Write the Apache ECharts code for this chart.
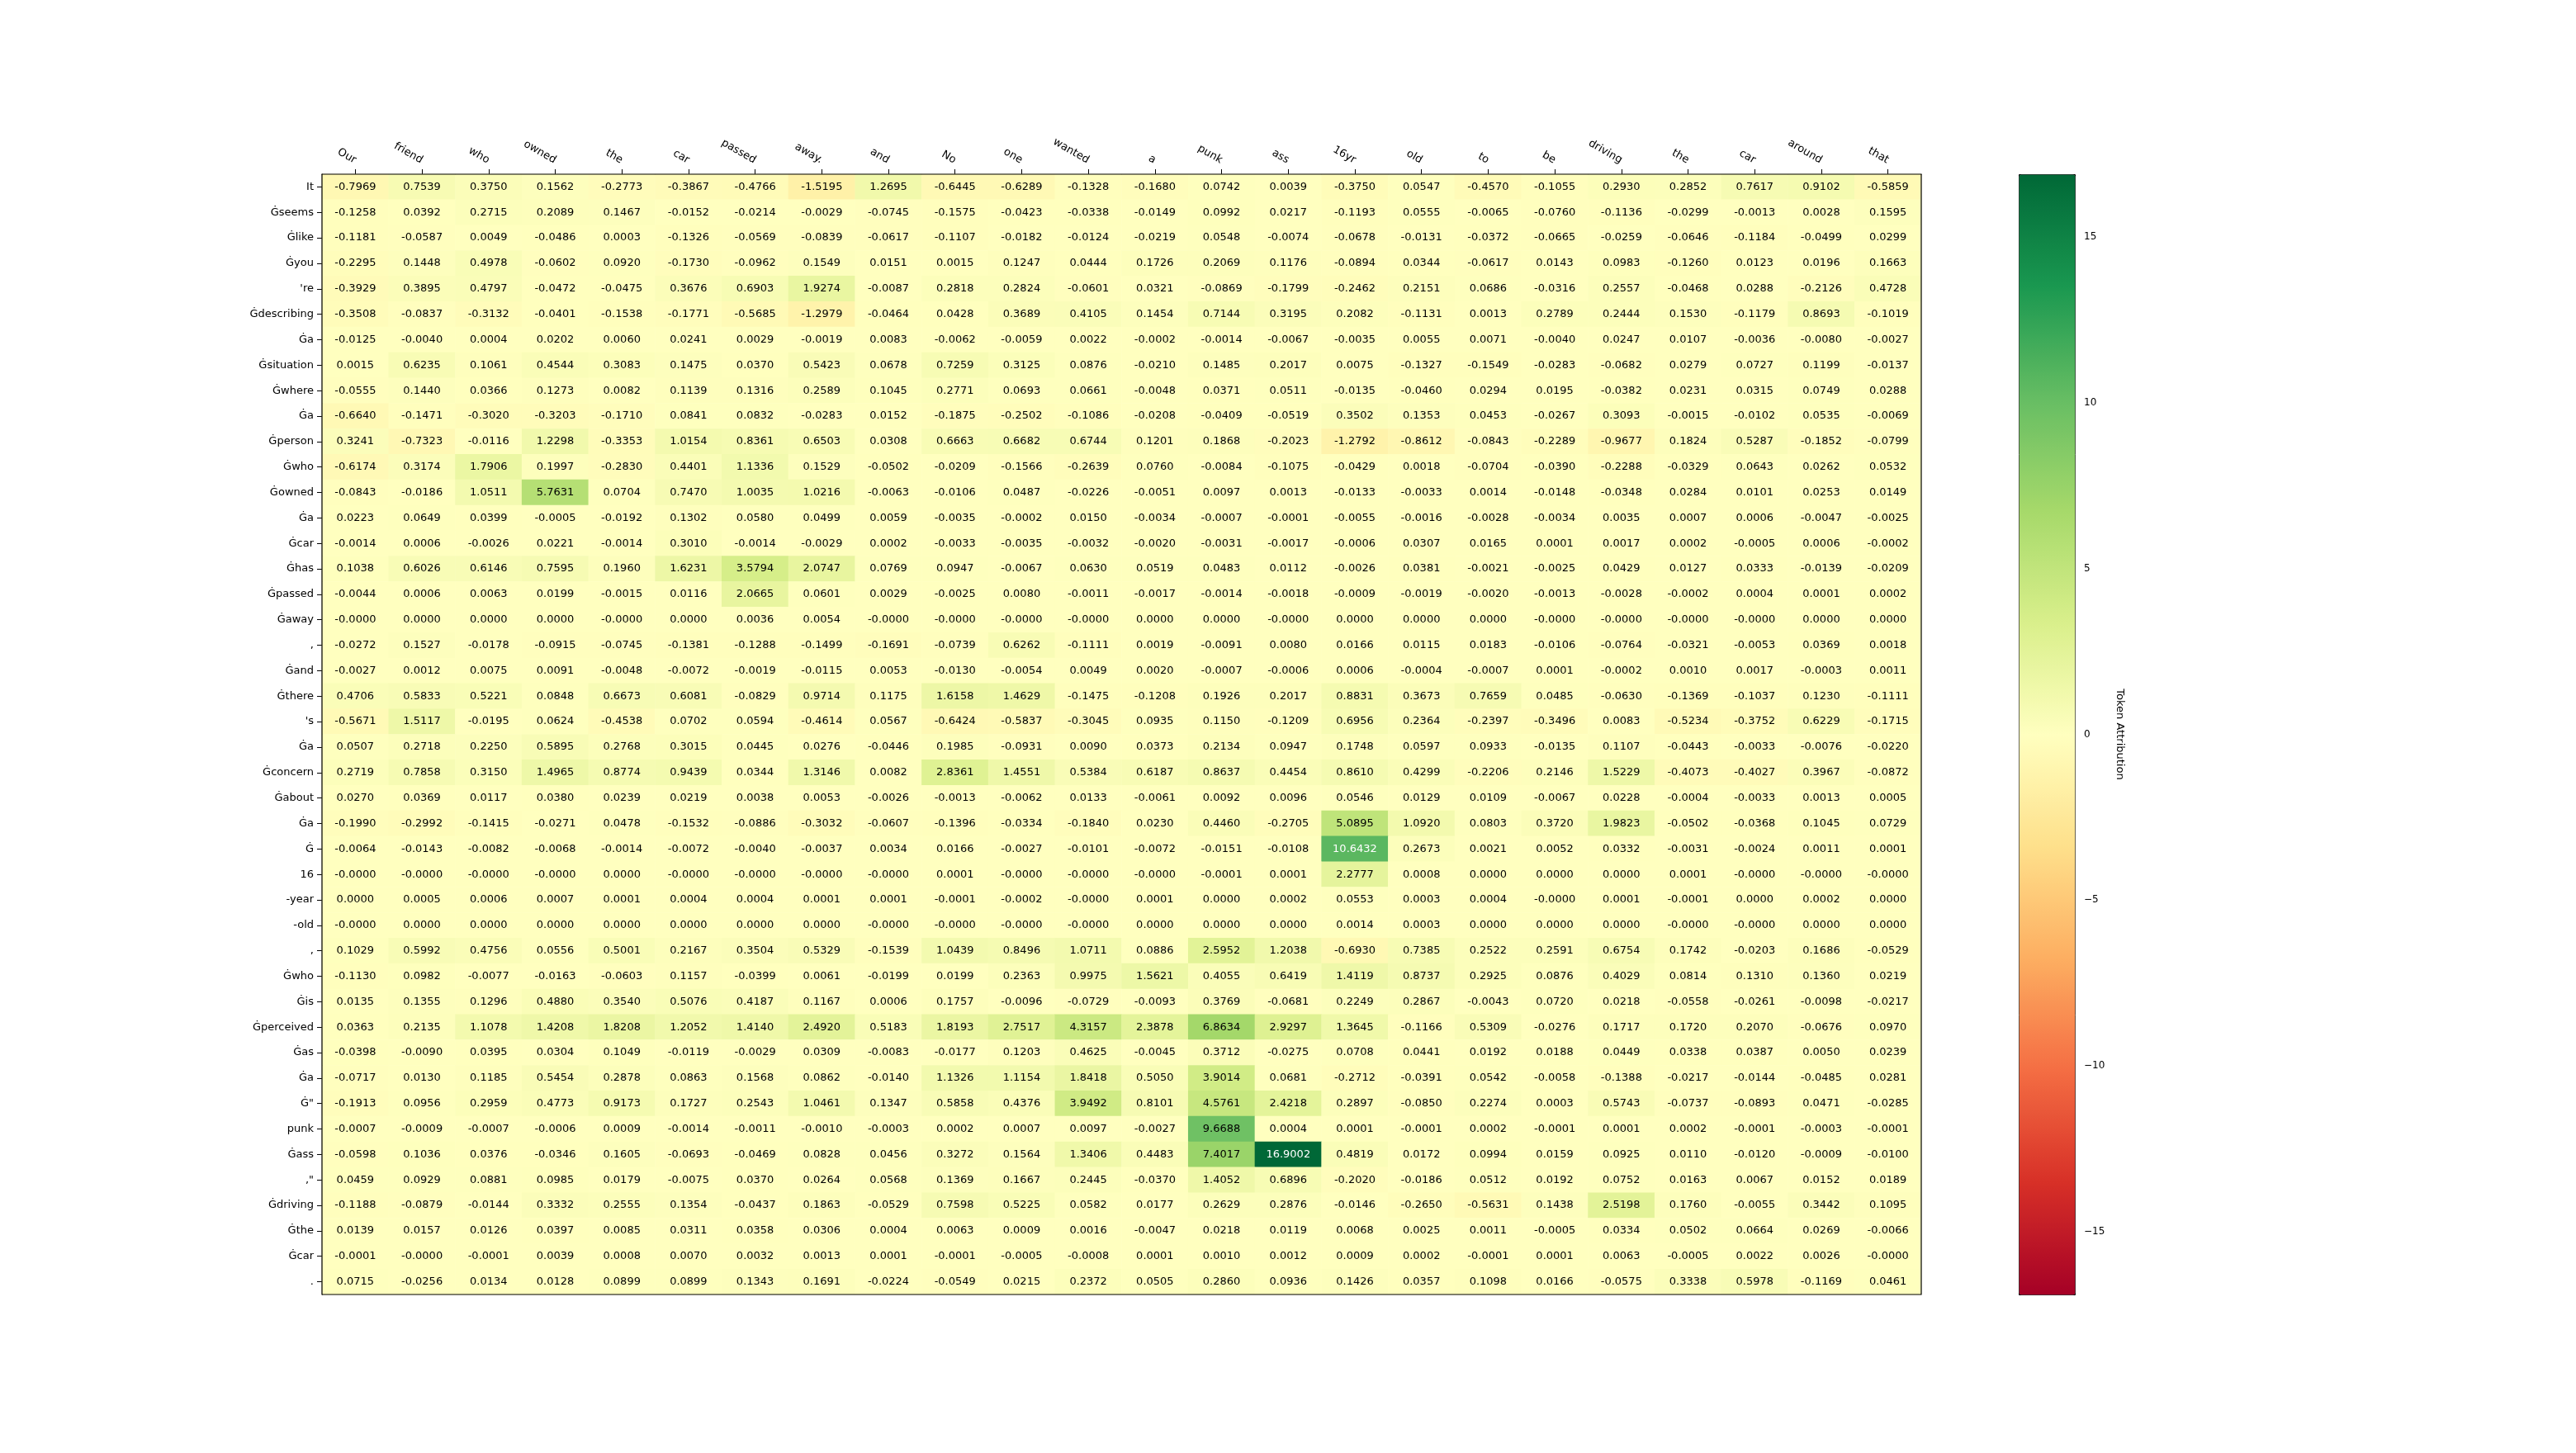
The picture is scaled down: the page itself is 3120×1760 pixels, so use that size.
<!DOCTYPE html>
<html>
<head>
<meta charset="utf-8">
<script src="https://cdn.jsdelivr.net/npm/echarts@6/dist/echarts.min.js"></script>
<style>
html,body{margin:0;padding:0;background:#fff;}
#chart{width:3120px;height:1760px;}
</style>
</head>
<body>
<div id="chart"></div>
<script>
// Column tokens (x axis, top)
const colLabels = ['Our','friend','who','owned','the','car','passed','away.','and','No','one','wanted',
  'a','punk','ass','16yr','old','to','be','driving','the','car','around','that'];

// Row tokens (y axis)
const rowLabels = ['It','\u0120seems','\u0120like','\u0120you',"'re",'\u0120describing','\u0120a','\u0120situation',
  '\u0120where','\u0120a','\u0120person','\u0120who','\u0120owned','\u0120a','\u0120car','\u0120has','\u0120passed',
  '\u0120away',',','\u0120and','\u0120there',"'s",'\u0120a','\u0120concern','\u0120about','\u0120a','\u0120',
  '16','-year','-old',',','\u0120who','\u0120is','\u0120perceived','\u0120as','\u0120a','\u0120"','punk',
  '\u0120ass',',"','\u0120driving','\u0120the','\u0120car','.'];

// Attribution values, one list per row token
const attributionRows = [
  [-0.7969,0.7539,0.3750,0.1562,-0.2773,-0.3867,-0.4766,-1.5195,1.2695,-0.6445,-0.6289,-0.1328,-0.1680,0.0742,0.0039,-0.3750,0.0547,-0.4570,-0.1055,0.2930,0.2852,0.7617,0.9102,-0.5859],
  [-0.1258,0.0392,0.2715,0.2089,0.1467,-0.0152,-0.0214,-0.0029,-0.0745,-0.1575,-0.0423,-0.0338,-0.0149,0.0992,0.0217,-0.1193,0.0555,-0.0065,-0.0760,-0.1136,-0.0299,-0.0013,0.0028,0.1595],
  [-0.1181,-0.0587,0.0049,-0.0486,0.0003,-0.1326,-0.0569,-0.0839,-0.0617,-0.1107,-0.0182,-0.0124,-0.0219,0.0548,-0.0074,-0.0678,-0.0131,-0.0372,-0.0665,-0.0259,-0.0646,-0.1184,-0.0499,0.0299],
  [-0.2295,0.1448,0.4978,-0.0602,0.0920,-0.1730,-0.0962,0.1549,0.0151,0.0015,0.1247,0.0444,0.1726,0.2069,0.1176,-0.0894,0.0344,-0.0617,0.0143,0.0983,-0.1260,0.0123,0.0196,0.1663],
  [-0.3929,0.3895,0.4797,-0.0472,-0.0475,0.3676,0.6903,1.9274,-0.0087,0.2818,0.2824,-0.0601,0.0321,-0.0869,-0.1799,-0.2462,0.2151,0.0686,-0.0316,0.2557,-0.0468,0.0288,-0.2126,0.4728],
  [-0.3508,-0.0837,-0.3132,-0.0401,-0.1538,-0.1771,-0.5685,-1.2979,-0.0464,0.0428,0.3689,0.4105,0.1454,0.7144,0.3195,0.2082,-0.1131,0.0013,0.2789,0.2444,0.1530,-0.1179,0.8693,-0.1019],
  [-0.0125,-0.0040,0.0004,0.0202,0.0060,0.0241,0.0029,-0.0019,0.0083,-0.0062,-0.0059,0.0022,-0.0002,-0.0014,-0.0067,-0.0035,0.0055,0.0071,-0.0040,0.0247,0.0107,-0.0036,-0.0080,-0.0027],
  [0.0015,0.6235,0.1061,0.4544,0.3083,0.1475,0.0370,0.5423,0.0678,0.7259,0.3125,0.0876,-0.0210,0.1485,0.2017,0.0075,-0.1327,-0.1549,-0.0283,-0.0682,0.0279,0.0727,0.1199,-0.0137],
  [-0.0555,0.1440,0.0366,0.1273,0.0082,0.1139,0.1316,0.2589,0.1045,0.2771,0.0693,0.0661,-0.0048,0.0371,0.0511,-0.0135,-0.0460,0.0294,0.0195,-0.0382,0.0231,0.0315,0.0749,0.0288],
  [-0.6640,-0.1471,-0.3020,-0.3203,-0.1710,0.0841,0.0832,-0.0283,0.0152,-0.1875,-0.2502,-0.1086,-0.0208,-0.0409,-0.0519,0.3502,0.1353,0.0453,-0.0267,0.3093,-0.0015,-0.0102,0.0535,-0.0069],
  [0.3241,-0.7323,-0.0116,1.2298,-0.3353,1.0154,0.8361,0.6503,0.0308,0.6663,0.6682,0.6744,0.1201,0.1868,-0.2023,-1.2792,-0.8612,-0.0843,-0.2289,-0.9677,0.1824,0.5287,-0.1852,-0.0799],
  [-0.6174,0.3174,1.7906,0.1997,-0.2830,0.4401,1.1336,0.1529,-0.0502,-0.0209,-0.1566,-0.2639,0.0760,-0.0084,-0.1075,-0.0429,0.0018,-0.0704,-0.0390,-0.2288,-0.0329,0.0643,0.0262,0.0532],
  [-0.0843,-0.0186,1.0511,5.7631,0.0704,0.7470,1.0035,1.0216,-0.0063,-0.0106,0.0487,-0.0226,-0.0051,0.0097,0.0013,-0.0133,-0.0033,0.0014,-0.0148,-0.0348,0.0284,0.0101,0.0253,0.0149],
  [0.0223,0.0649,0.0399,-0.0005,-0.0192,0.1302,0.0580,0.0499,0.0059,-0.0035,-0.0002,0.0150,-0.0034,-0.0007,-0.0001,-0.0055,-0.0016,-0.0028,-0.0034,0.0035,0.0007,0.0006,-0.0047,-0.0025],
  [-0.0014,0.0006,-0.0026,0.0221,-0.0014,0.3010,-0.0014,-0.0029,0.0002,-0.0033,-0.0035,-0.0032,-0.0020,-0.0031,-0.0017,-0.0006,0.0307,0.0165,0.0001,0.0017,0.0002,-0.0005,0.0006,-0.0002],
  [0.1038,0.6026,0.6146,0.7595,0.1960,1.6231,3.5794,2.0747,0.0769,0.0947,-0.0067,0.0630,0.0519,0.0483,0.0112,-0.0026,0.0381,-0.0021,-0.0025,0.0429,0.0127,0.0333,-0.0139,-0.0209],
  [-0.0044,0.0006,0.0063,0.0199,-0.0015,0.0116,2.0665,0.0601,0.0029,-0.0025,0.0080,-0.0011,-0.0017,-0.0014,-0.0018,-0.0009,-0.0019,-0.0020,-0.0013,-0.0028,-0.0002,0.0004,0.0001,0.0002],
  [-0.0000,0.0000,0.0000,0.0000,-0.0000,0.0000,0.0036,0.0054,-0.0000,-0.0000,-0.0000,-0.0000,0.0000,0.0000,-0.0000,0.0000,0.0000,0.0000,-0.0000,-0.0000,-0.0000,-0.0000,0.0000,0.0000],
  [-0.0272,0.1527,-0.0178,-0.0915,-0.0745,-0.1381,-0.1288,-0.1499,-0.1691,-0.0739,0.6262,-0.1111,0.0019,-0.0091,0.0080,0.0166,0.0115,0.0183,-0.0106,-0.0764,-0.0321,-0.0053,0.0369,0.0018],
  [-0.0027,0.0012,0.0075,0.0091,-0.0048,-0.0072,-0.0019,-0.0115,0.0053,-0.0130,-0.0054,0.0049,0.0020,-0.0007,-0.0006,0.0006,-0.0004,-0.0007,0.0001,-0.0002,0.0010,0.0017,-0.0003,0.0011],
  [0.4706,0.5833,0.5221,0.0848,0.6673,0.6081,-0.0829,0.9714,0.1175,1.6158,1.4629,-0.1475,-0.1208,0.1926,0.2017,0.8831,0.3673,0.7659,0.0485,-0.0630,-0.1369,-0.1037,0.1230,-0.1111],
  [-0.5671,1.5117,-0.0195,0.0624,-0.4538,0.0702,0.0594,-0.4614,0.0567,-0.6424,-0.5837,-0.3045,0.0935,0.1150,-0.1209,0.6956,0.2364,-0.2397,-0.3496,0.0083,-0.5234,-0.3752,0.6229,-0.1715],
  [0.0507,0.2718,0.2250,0.5895,0.2768,0.3015,0.0445,0.0276,-0.0446,0.1985,-0.0931,0.0090,0.0373,0.2134,0.0947,0.1748,0.0597,0.0933,-0.0135,0.1107,-0.0443,-0.0033,-0.0076,-0.0220],
  [0.2719,0.7858,0.3150,1.4965,0.8774,0.9439,0.0344,1.3146,0.0082,2.8361,1.4551,0.5384,0.6187,0.8637,0.4454,0.8610,0.4299,-0.2206,0.2146,1.5229,-0.4073,-0.4027,0.3967,-0.0872],
  [0.0270,0.0369,0.0117,0.0380,0.0239,0.0219,0.0038,0.0053,-0.0026,-0.0013,-0.0062,0.0133,-0.0061,0.0092,0.0096,0.0546,0.0129,0.0109,-0.0067,0.0228,-0.0004,-0.0033,0.0013,0.0005],
  [-0.1990,-0.2992,-0.1415,-0.0271,0.0478,-0.1532,-0.0886,-0.3032,-0.0607,-0.1396,-0.0334,-0.1840,0.0230,0.4460,-0.2705,5.0895,1.0920,0.0803,0.3720,1.9823,-0.0502,-0.0368,0.1045,0.0729],
  [-0.0064,-0.0143,-0.0082,-0.0068,-0.0014,-0.0072,-0.0040,-0.0037,0.0034,0.0166,-0.0027,-0.0101,-0.0072,-0.0151,-0.0108,10.6432,0.2673,0.0021,0.0052,0.0332,-0.0031,-0.0024,0.0011,0.0001],
  [-0.0000,-0.0000,-0.0000,-0.0000,0.0000,-0.0000,-0.0000,-0.0000,-0.0000,0.0001,-0.0000,-0.0000,-0.0000,-0.0001,0.0001,2.2777,0.0008,0.0000,0.0000,0.0000,0.0001,-0.0000,-0.0000,-0.0000],
  [0.0000,0.0005,0.0006,0.0007,0.0001,0.0004,0.0004,0.0001,0.0001,-0.0001,-0.0002,-0.0000,0.0001,0.0000,0.0002,0.0553,0.0003,0.0004,-0.0000,0.0001,-0.0001,0.0000,0.0002,0.0000],
  [-0.0000,0.0000,0.0000,0.0000,0.0000,0.0000,0.0000,0.0000,-0.0000,-0.0000,-0.0000,-0.0000,0.0000,0.0000,0.0000,0.0014,0.0003,0.0000,0.0000,0.0000,-0.0000,-0.0000,0.0000,0.0000],
  [0.1029,0.5992,0.4756,0.0556,0.5001,0.2167,0.3504,0.5329,-0.1539,1.0439,0.8496,1.0711,0.0886,2.5952,1.2038,-0.6930,0.7385,0.2522,0.2591,0.6754,0.1742,-0.0203,0.1686,-0.0529],
  [-0.1130,0.0982,-0.0077,-0.0163,-0.0603,0.1157,-0.0399,0.0061,-0.0199,0.0199,0.2363,0.9975,1.5621,0.4055,0.6419,1.4119,0.8737,0.2925,0.0876,0.4029,0.0814,0.1310,0.1360,0.0219],
  [0.0135,0.1355,0.1296,0.4880,0.3540,0.5076,0.4187,0.1167,0.0006,0.1757,-0.0096,-0.0729,-0.0093,0.3769,-0.0681,0.2249,0.2867,-0.0043,0.0720,0.0218,-0.0558,-0.0261,-0.0098,-0.0217],
  [0.0363,0.2135,1.1078,1.4208,1.8208,1.2052,1.4140,2.4920,0.5183,1.8193,2.7517,4.3157,2.3878,6.8634,2.9297,1.3645,-0.1166,0.5309,-0.0276,0.1717,0.1720,0.2070,-0.0676,0.0970],
  [-0.0398,-0.0090,0.0395,0.0304,0.1049,-0.0119,-0.0029,0.0309,-0.0083,-0.0177,0.1203,0.4625,-0.0045,0.3712,-0.0275,0.0708,0.0441,0.0192,0.0188,0.0449,0.0338,0.0387,0.0050,0.0239],
  [-0.0717,0.0130,0.1185,0.5454,0.2878,0.0863,0.1568,0.0862,-0.0140,1.1326,1.1154,1.8418,0.5050,3.9014,0.0681,-0.2712,-0.0391,0.0542,-0.0058,-0.1388,-0.0217,-0.0144,-0.0485,0.0281],
  [-0.1913,0.0956,0.2959,0.4773,0.9173,0.1727,0.2543,1.0461,0.1347,0.5858,0.4376,3.9492,0.8101,4.5761,2.4218,0.2897,-0.0850,0.2274,0.0003,0.5743,-0.0737,-0.0893,0.0471,-0.0285],
  [-0.0007,-0.0009,-0.0007,-0.0006,0.0009,-0.0014,-0.0011,-0.0010,-0.0003,0.0002,0.0007,0.0097,-0.0027,9.6688,0.0004,0.0001,-0.0001,0.0002,-0.0001,0.0001,0.0002,-0.0001,-0.0003,-0.0001],
  [-0.0598,0.1036,0.0376,-0.0346,0.1605,-0.0693,-0.0469,0.0828,0.0456,0.3272,0.1564,1.3406,0.4483,7.4017,16.9002,0.4819,0.0172,0.0994,0.0159,0.0925,0.0110,-0.0120,-0.0009,-0.0100],
  [0.0459,0.0929,0.0881,0.0985,0.0179,-0.0075,0.0370,0.0264,0.0568,0.1369,0.1667,0.2445,-0.0370,1.4052,0.6896,-0.2020,-0.0186,0.0512,0.0192,0.0752,0.0163,0.0067,0.0152,0.0189],
  [-0.1188,-0.0879,-0.0144,0.3332,0.2555,0.1354,-0.0437,0.1863,-0.0529,0.7598,0.5225,0.0582,0.0177,0.2629,0.2876,-0.0146,-0.2650,-0.5631,0.1438,2.5198,0.1760,-0.0055,0.3442,0.1095],
  [0.0139,0.0157,0.0126,0.0397,0.0085,0.0311,0.0358,0.0306,0.0004,0.0063,0.0009,0.0016,-0.0047,0.0218,0.0119,0.0068,0.0025,0.0011,-0.0005,0.0334,0.0502,0.0664,0.0269,-0.0066],
  [-0.0001,-0.0000,-0.0001,0.0039,0.0008,0.0070,0.0032,0.0013,0.0001,-0.0001,-0.0005,-0.0008,0.0001,0.0010,0.0012,0.0009,0.0002,-0.0001,0.0001,0.0063,-0.0005,0.0022,0.0026,-0.0000],
  [0.0715,-0.0256,0.0134,0.0128,0.0899,0.0899,0.1343,0.1691,-0.0224,-0.0549,0.0215,0.2372,0.0505,0.2860,0.0936,0.1426,0.0357,0.1098,0.0166,-0.0575,0.3338,0.5978,-0.1169,0.0461]
];

// Colorbar tick values
const colorbarTicks = [-15,-10,-5,0,5,10,15];
const colorbarTitle = 'Token Attribution';

// RdYlGn colormap
const rdYlGn = ['#a50026','#d73027','#f46d43','#fdae61','#fee08b','#ffffbf','#d9ef8b','#a6d96a','#66bd63','#1a9850','#006837'];

let vmax = 0;
attributionRows.forEach(r => r.forEach(v => { vmax = Math.max(vmax, Math.abs(v)); }));

function fmt(v) {
  const neg = v < 0 || Object.is(v, -0);
  return (neg ? '-' : '') + Math.abs(v).toFixed(4);
}

const heatData = [];
attributionRows.forEach((row, r) => {
  row.forEach((v, c) => {
    heatData.push({
      value: [c, r, v],
      label: { color: Math.abs(v) > 0.6 * vmax ? '#ffffff' : '#000000' }
    });
  });
});

const FONT = 'DejaVu Sans';
const chart = echarts.init(document.getElementById('chart'), null, { renderer: 'canvas' });

chart.setOption({
  animation: false,
  backgroundColor: '#ffffff',
  textStyle: { fontFamily: FONT },
  grid: [
    { left: 390, top: 211, width: 1937, height: 1357, show: false },
    { left: 2445, top: 211, width: 68, height: 1357, show: false }
  ],
  xAxis: [
    {
      type: 'category', gridIndex: 0, position: 'top', data: colLabels,
      axisLine: { show: true, lineStyle: { color: '#000', width: 1.2 } },
      axisTick: { show: true, alignWithLabel: true, length: 6, lineStyle: { color: '#000', width: 1 } },
      axisLabel: { interval: 0, rotate: 30, fontSize: 13, color: '#000', fontFamily: FONT, margin: 16 },
      splitLine: { show: false }
    },
    { type: 'value', gridIndex: 1, show: false, min: 0, max: 1 }
  ],
  yAxis: [
    {
      type: 'category', gridIndex: 0, inverse: true, data: rowLabels,
      axisLine: { show: true, lineStyle: { color: '#000', width: 1.2 } },
      axisTick: { show: true, alignWithLabel: true, length: 6, lineStyle: { color: '#000', width: 1 } },
      axisLabel: { interval: 0, fontSize: 13, color: '#000', fontFamily: FONT, margin: 10 },
      splitLine: { show: false }
    },
    {
      type: 'value', gridIndex: 1, position: 'right', min: -vmax, max: vmax,
      axisLine: { show: false },
      axisTick: { show: true, length: 6, customValues: colorbarTicks, lineStyle: { color: '#000', width: 1 } },
      axisLabel: {
        fontSize: 12, color: '#000', fontFamily: FONT, margin: 11, customValues: colorbarTicks,
        formatter: v => (v < 0 ? '\u2212' + Math.abs(v) : String(v))
      },
      splitLine: { show: false },
      name: colorbarTitle, nameLocation: 'middle', nameRotate: -90, nameGap: 48,
      nameTextStyle: { fontSize: 13, color: '#000', fontFamily: FONT }
    }
  ],
  visualMap: {
    type: 'continuous', seriesIndex: 0, min: -vmax, max: vmax, dimension: 2,
    show: true, calculable: false, hoverLink: false,
    left: 2445, top: 211, itemWidth: 68, itemHeight: 1357, padding: 0,
    text: null, borderColor: '#000', borderWidth: 1,
    inRange: { color: rdYlGn }
  },
  graphic: [
    { type: 'rect', shape: { x: 390, y: 211, width: 1937, height: 1357 }, style: { fill: null, stroke: '#000', lineWidth: 1.2 }, z: 100, silent: true }
  ],
  series: [
    {
      type: 'heatmap', xAxisIndex: 0, yAxisIndex: 0, data: heatData,
      label: {
        show: true, fontSize: 13, fontFamily: FONT,
        formatter: p => fmt(attributionRows[p.value[1]][p.value[0]])
      },
      emphasis: { disabled: true }
    },
    { type: 'scatter', xAxisIndex: 1, yAxisIndex: 1, data: [], silent: true }
  ]
});
</script>
</body>
</html>
